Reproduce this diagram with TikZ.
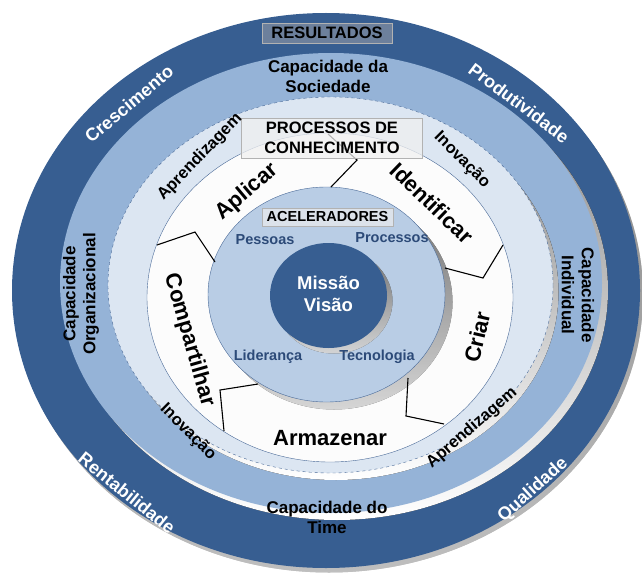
\documentclass[tikz,border=0pt]{standalone}
\usepackage{fontspec}
\setmainfont{Liberation Sans}
\definecolor{darkring}{HTML}{375E91}
\definecolor{midring}{HTML}{95B3D7}
\definecolor{lightring}{HTML}{DCE6F2}
\definecolor{accelring}{HTML}{B9CDE5}
\definecolor{edgeblue}{HTML}{4A6A98}
\definecolor{labelblue}{HTML}{2C4A78}
\definecolor{shade}{HTML}{8A929E}
\definecolor{resultfill}{HTML}{6D809C}
\definecolor{accelfill}{HTML}{DCE2EA}
\newcommand{\fs}[2]{\fontsize{#1}{#2}\selectfont\bfseries}
\tikzset{
  outerlabel/.style={font=\fs{18}{21}, text=white, inner sep=1pt},
  caplabel/.style={font=\fs{17}{20}, align=center, inner sep=1pt},
  flowlabel/.style={font=\fs{16.5}{19}, inner sep=1pt},
  proclabel/.style={font=\fs{22}{25}, inner sep=1pt},
  accellabel/.style={font=\fs{14.5}{17}, text=labelblue, inner sep=1pt},
  titlebox/.style={draw=gray!60, inner sep=0pt, font=\fs{16.5}{19.5}, align=center}
}
\begin{document}
\begin{tikzpicture}[x=1pt,y=-1pt]
\useasboundingbox (0,0) rectangle (642,583);
% rings, outside in
\fill[shade,opacity=.5] (329,295) ellipse [x radius=314, y radius=277.5];
\fill[darkring] (326,290.5) ellipse [x radius=314, y radius=277.5];
\fill[shade] (337,290) ellipse [x radius=271, y radius=230];
\fill[midring] (331,283) ellipse [x radius=271, y radius=230];
\fill[shade] (336,292) ellipse [x radius=222.5, y radius=188];
\fill[lightring] (330.5,285) ellipse [x radius=222.5, y radius=188];
\draw[edgeblue,dashed,thin] (330.5,285) ellipse [x radius=222.5, y radius=188];
\fill[white!98!gray] (330,297.5) ellipse [x radius=183, y radius=164.5];
\draw[edgeblue,thin] (330,297.5) ellipse [x radius=183, y radius=164.5];
\fill[shade,opacity=.8] (334,302) ellipse [x radius=118.5, y radius=107.5];
\fill[accelring] (326.5,294.5) ellipse [x radius=118.5, y radius=107.5];
\draw[edgeblue,thin] (326.5,294.5) ellipse [x radius=118.5, y radius=107.5];
\fill[shade,opacity=.8] (334,301) ellipse [x radius=58.5, y radius=52.5];
\fill[darkring] (328.5,295.5) ellipse [x radius=58.5, y radius=52.5];
% borders between the process segments
\foreach \ax/\ay/\bx/\by/\cx/\cy in {328/134/357/160/331/187, 157/245/195/232/215/262,
  258/384/220/390/224/431, 408/378/406/416/444/424, 445/268/483/278/503/245} {
\draw[line width=1.1pt] (\ax,\ay) -- (\bx,\by) -- (\cx,\cy);
}
% boxes
\node[titlebox, fill=resultfill, minimum width=130, minimum height=20] (results) at (327,33) {RESULTADOS};
\node[titlebox, fill=gray!12, fill opacity=.75, text opacity=1, minimum width=181, minimum height=40] (processes) at (332,138) {PROCESSOS DE\\CONHECIMENTO};
\node[titlebox, font=\fs{14.5}{17}, fill=accelfill, minimum width=131, minimum height=18] (accelerators) at (327.5,217) {ACELERADORES};
% outer ring
\node[outerlabel, rotate=40] (growth) at (129,104) {Crescimento};
\node[outerlabel, rotate=-37] (productivity) at (519,103) {Produtividade};
\node[outerlabel, rotate=-39] (profit) at (127,493) {Rentabilidade};
\node[outerlabel, rotate=42] (quality) at (533,490) {Qualidade};
% capacities
\node[caplabel] (society) at (328,76) {Capacidade da\\Sociedade};
\node[caplabel] (team) at (327,517) {Capacidade do\\Time};
\node[caplabel, rotate=90] (organization) at (81,294) {Capacidade\\Organizacional};
\node[caplabel, rotate=-90] (individual) at (578,295) {Capacidade\\Individual};
% light ring
\node[flowlabel, rotate=46] (learnA) at (200,157) {Aprendizagem};
\node[flowlabel, rotate=-45] (innovA) at (462,160) {Inovação};
\node[flowlabel, rotate=-45] (innovB) at (188,432) {Inovação};
\node[flowlabel, rotate=41] (learnB) at (472,428) {Aprendizagem};
% processes
\node[proclabel, rotate=40] (apply) at (247,192) {Aplicar};
\node[proclabel, rotate=-44] (identify) at (432,203) {Identificar};
\node[proclabel, rotate=77] (create) at (477,337) {Criar};
\node[proclabel, rotate=-74] (share) at (189,340) {Compartilhar};
\node[proclabel] (store) at (330,438) {Armazenar};
% accelerators
\node[accellabel] (people) at (265,240) {Pessoas};
\node[accellabel] (procs) at (392,238) {Processos};
\node[accellabel] (leadership) at (268,357) {Liderança};
\node[accellabel] (technology) at (377,357) {Tecnologia};
% centre
\node[font=\fs{18.5}{22}, text=white, align=center] (mission) at (328.5,294) {Missão\\Visão};
\end{tikzpicture}
\end{document}
